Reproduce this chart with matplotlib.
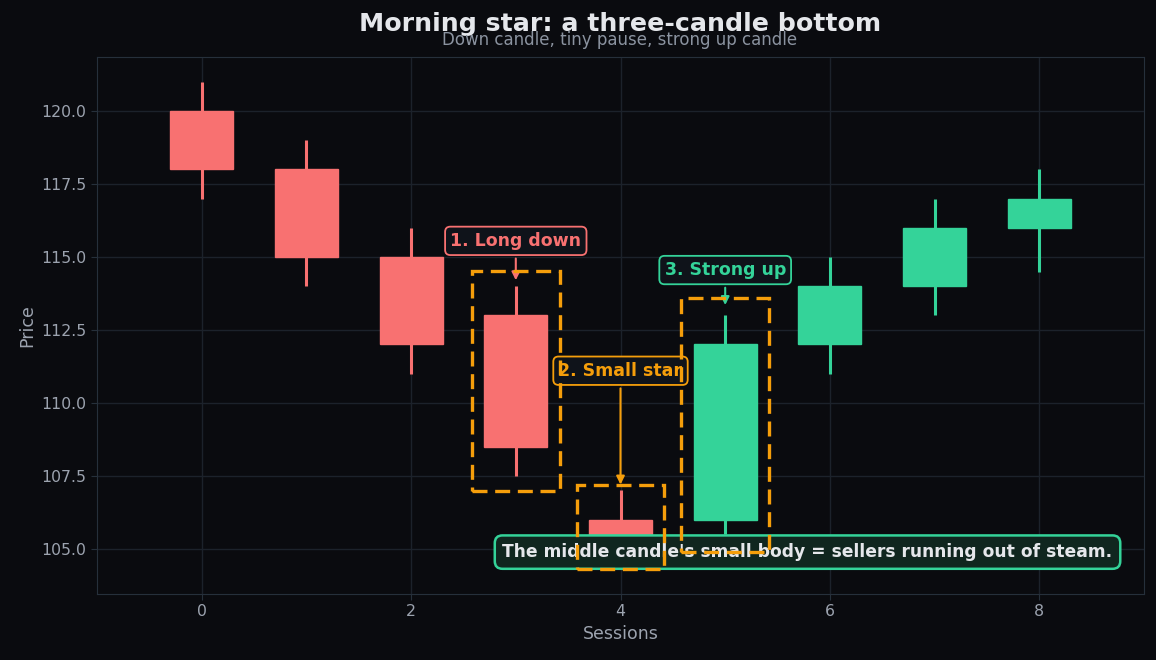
import matplotlib
matplotlib.use("Agg")
import matplotlib.pyplot as plt
from matplotlib.patches import Rectangle

sessions = [0, 1, 2, 3, 4, 5, 6, 7, 8]
opens  = [120.0, 118.0, 115.0, 113.0, 106.0, 106.0, 112.0, 114.0, 116.0]
closes = [118.0, 115.0, 112.0, 108.5, 105.4, 112.0, 114.0, 116.0, 117.0]
highs  = [121.0, 119.0, 116.0, 114.0, 107.0, 113.0, 115.0, 117.0, 118.0]
lows   = [117.0, 114.0, 111.0, 107.5, 104.5, 105.5, 111.0, 113.0, 114.5]

highlight_idx = [3, 4, 5]
label_texts = ["1. Long down", "2. Small star", "3. Strong up"]
label_y = [115.55, 111.1, 114.55]
arrow_tip_y = [114.2, 107.2, 113.35]

title = "Morning star: a three-candle bottom"
subtitle = "Down candle, tiny pause, strong up candle"
note = "The middle candle's small body = sellers running out of steam."

BG = "#0a0b0f"
RED = "#f87171"
GREEN = "#34d399"
ORANGE = "#f59e0b"
TXT = "#e5e7eb"
MUTED = "#9ca3af"
GRID = "#1c222b"
SPINE = "#26303b"
S = 1.135

fig = plt.figure(figsize=(11.56, 6.6), dpi=100, facecolor=BG)
ax = fig.add_axes([97/1156, 66/660, 1047/1156, 537/660])
ax.set_facecolor(BG)

width = 0.6
for x, o, c, h, l in zip(sessions, opens, closes, highs, lows):
    col = GREEN if c >= o else RED
    ax.vlines(x, l, h, color=col, linewidth=2.2, zorder=2)
    ax.add_patch(Rectangle((x - width/2, min(o, c)), width, abs(c - o),
                           facecolor=col, edgecolor=col, linewidth=1, zorder=3))

for i in highlight_idx:
    rng = highs[i] - lows[i]
    pad = 0.08 * rng
    ax.add_patch(Rectangle((sessions[i] - 0.42, lows[i] - pad), 0.84, rng + 2*pad,
                           fill=False, edgecolor=ORANGE, linewidth=2.4,
                           linestyle=(0, (4.5, 2.3)), zorder=9))

label_colors = [RED, ORANGE, GREEN]
for i, txt, ty, tip, col in zip(highlight_idx, label_texts, label_y, arrow_tip_y, label_colors):
    ax.annotate(txt, xy=(sessions[i], tip), xytext=(sessions[i], ty),
                ha="center", va="center", fontsize=11*S, fontweight="bold", color=col,
                bbox=dict(boxstyle="round,pad=0.3", facecolor="#0f131a", edgecolor=col, linewidth=1.3),
                arrowprops=dict(arrowstyle="-|>", color=col, linewidth=1.5, mutation_scale=12,
                                shrinkA=2, shrinkB=0),
                zorder=6)

ax.text(0.97, 0.078, note, transform=ax.transAxes, ha="right", va="center",
        fontsize=12.3, fontweight="bold", color=TXT, zorder=7,
        bbox=dict(boxstyle="round,pad=0.45", facecolor="#10261f", edgecolor=GREEN, linewidth=1.8))

ax.set_xlim(-1, 9)
ax.set_ylim(103.45, 121.85)
ax.set_xticks([0, 2, 4, 6, 8])
ax.yaxis.set_major_formatter(matplotlib.ticker.FormatStrFormatter("%.1f"))
ax.grid(True, color=GRID, linewidth=1, zorder=0)
ax.set_axisbelow(True)
for s in ax.spines.values():
    s.set_color(SPINE)
ax.tick_params(colors=MUTED, labelsize=10*S, length=4, color=SPINE)
ax.set_xlabel("Sessions", color=MUTED, fontsize=11*S)
ax.set_ylabel("Price", color=MUTED, fontsize=11*S)

fig.text(620/1156, 1 - 24.5/660, title, ha="center", va="center", fontsize=16*S,
         fontweight="bold", color=TXT)
fig.text(620/1156, 1 - 40/660, subtitle, ha="center", va="center", fontsize=12.0,
         color="#8b93a0")

fig.savefig("out.png", dpi=100, facecolor=BG)
